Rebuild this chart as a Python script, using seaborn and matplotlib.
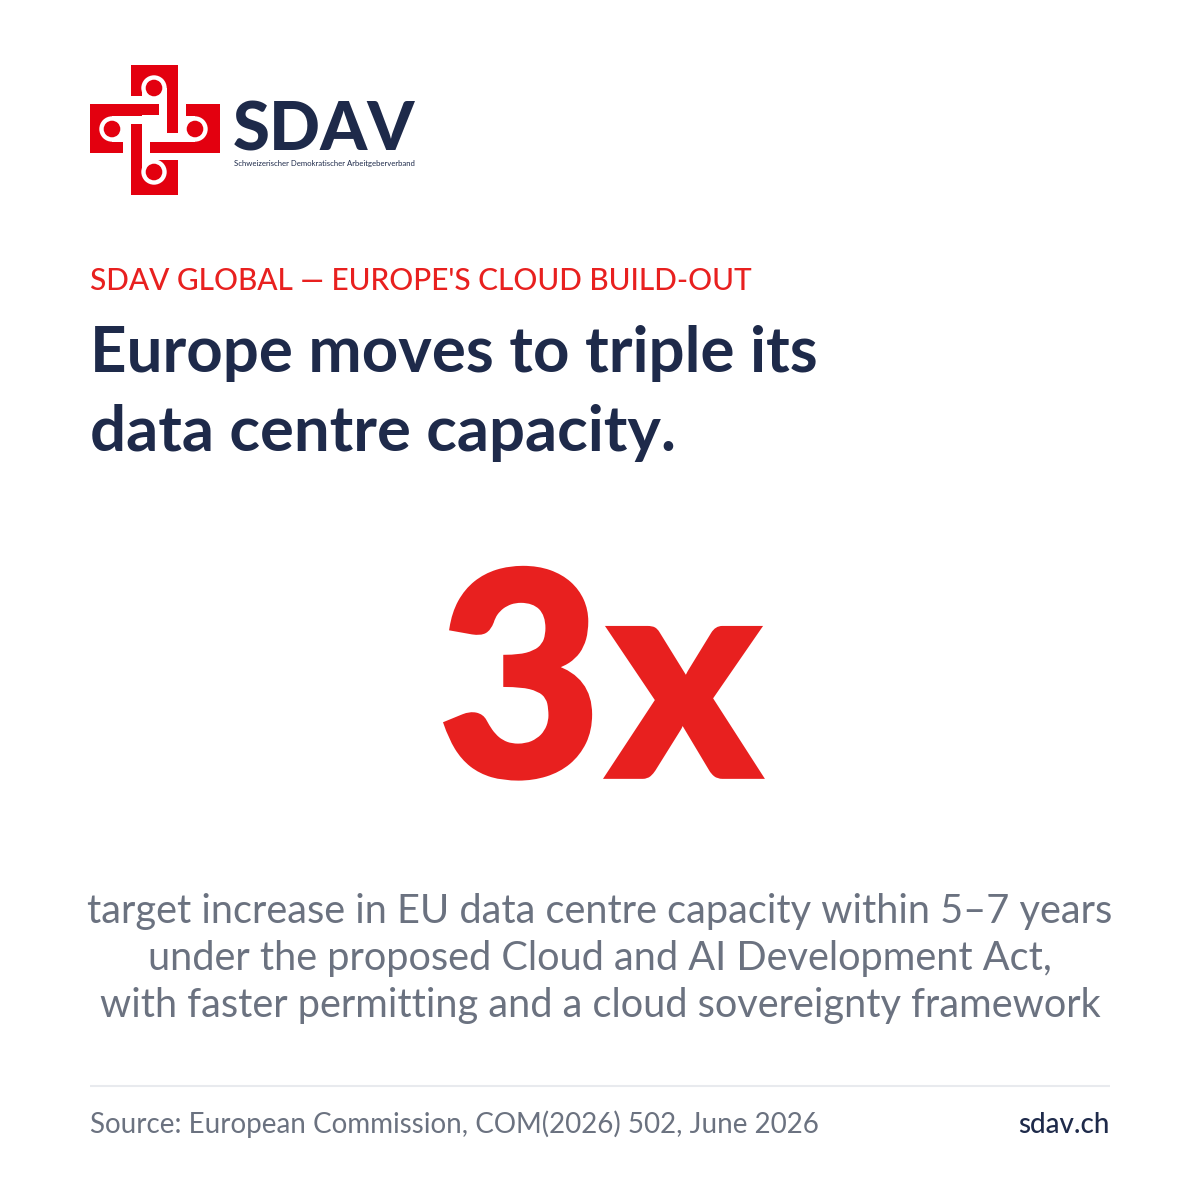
import seaborn as sns
import matplotlib.pyplot as plt
from matplotlib import patheffects as pe
from matplotlib.patches import Rectangle, Circle

kicker = "SDAV GLOBAL — EUROPE'S CLOUD BUILD-OUT"
headline = ["Europe moves to triple its", "data centre capacity."]
big_value = "3"
big_suffix = "x"
body_lines = ["target increase in EU data centre capacity within 5–7 years",
              "under the proposed Cloud and AI Development Act,",
              "with faster permitting and a cloud sovereignty framework"]
source = "Source: European Commission, COM(2026) 502, June 2026"
site = "sdav.ch"

RED = '#e3000f'
ACCENT = '#e8201f'
NAVY = '#1e2a4a'
GREY = '#6b7280'

sns.set_theme(style='white')
plt.rcParams['font.family'] = ['Lato', 'DejaVu Sans']

fig = plt.figure(figsize=(12, 12), dpi=100)
ax = fig.add_axes([0, 0, 1, 1])
ax.set_xlim(0, 1200)
ax.set_ylim(1200, 0)
ax.axis('off')

# logo: red cross, cut the white gaps out, then the rings on top
ax.add_patch(Rectangle((131, 65), 47, 130, color=RED, lw=0))
ax.add_patch(Rectangle((90, 104), 130, 49, color=RED, lw=0))
gaps = [(131, 96, 36, 8), (142, 88, 25, 16), (159, 88, 8, 45),
        (142, 115, 25, 27), (167, 133, 19, 9), (178, 104, 8, 38),
        (186, 116, 9, 26), (112, 116, 30, 8), (123, 116, 8, 37),
        (112, 129, 11, 13), (142, 142, 8, 18), (142, 153, 36, 7),
        (142, 160, 12, 12)]
for x, y, w, h in gaps:
    ax.add_patch(Rectangle((x, y), w, h, color='white', lw=0))
for cx, cy in [(154, 88), (195, 129), (154, 172), (112, 129)]:
    ax.add_patch(Circle((cx, cy), 12.7, color='white', lw=0))
    ax.add_patch(Circle((cx, cy), 8.3, color=RED, lw=0))

ax.text(233, 150.5, "SDAV", fontsize=48.3, fontweight=900, color=NAVY, ha='left', va='baseline')
ax.text(233.5, 166, "Schweizerischer Demokratischer Arbeitgeberverband", fontsize=5.55, color=NAVY, ha='left', va='baseline')

ax.text(90, 290.5, kicker, fontsize=21.4, fontweight='medium', color=ACCENT, ha='left', va='baseline')
ax.text(90, 372, headline[0], fontsize=45.85, fontweight='bold', color=NAVY, ha='left', va='baseline')
ax.text(90, 451, headline[1], fontsize=45.7, fontweight='bold', color=NAVY, ha='left', va='baseline')

# the big number is a bit fatter than Lato Black, so give it a thin outline
fat = [pe.withStroke(linewidth=3.4, foreground=ACCENT, joinstyle='miter')]
ax.text(520, 776, big_value, fontsize=204, fontweight=900, color=ACCENT, ha='center', va='baseline', path_effects=fat)
ax.text(684, 776.5, big_suffix, fontsize=207, fontweight=900, color=ACCENT, ha='center', va='baseline', path_effects=fat)

for line, y in zip(body_lines, [923, 970, 1017]):
    ax.text(600, y, line, fontsize=28.65, color=GREY, ha='center', va='baseline')

ax.plot([90, 1110], [1086, 1086], color='#e8eaee', lw=1.5, solid_capstyle='butt')
ax.text(90, 1133, source, fontsize=20, color=GREY, ha='left', va='baseline')
ax.text(1110, 1133, site, fontsize=20, color=NAVY, ha='right', va='baseline', fontweight='medium')

fig.savefig('out.png', dpi=100, facecolor='white')
